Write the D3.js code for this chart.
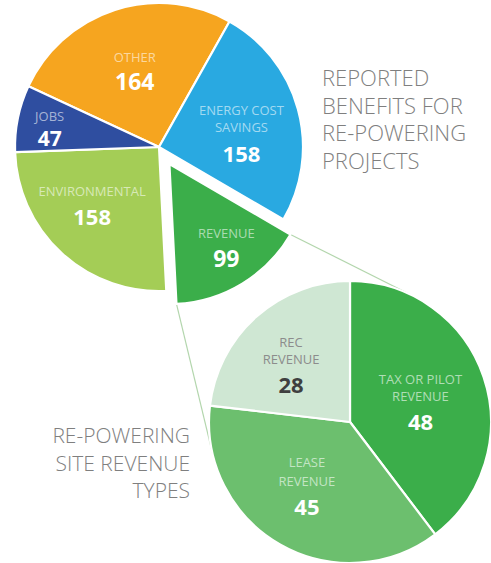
<!DOCTYPE html>
<html>
<head>
<meta charset="utf-8">
<script src="https://cdn.jsdelivr.net/npm/d3@7"></script>
<style>
  html, body { margin: 0; padding: 0; background: #fff; }
  svg { display: block; }
  text { font-family: "Open Sans", "DejaVu Sans", sans-serif; }
</style>
</head>
<body>
<script>
// ---------- DATA ----------
const categories = ["OTHER", "ENERGY COST SAVINGS", "REVENUE", "ENVIRONMENTAL", "JOBS"];
const categoryLines = [["OTHER"], ["ENERGY COST", "SAVINGS"], ["REVENUE"], ["ENVIRONMENTAL"], ["JOBS"]];
const values = [164, 158, 99, 158, 47];

const revCategories = ["TAX OR PILOT REVENUE", "LEASE REVENUE", "REC REVENUE"];
const revCategoryLines = [["TAX OR PILOT", "REVENUE"], ["LEASE", "REVENUE"], ["REC", "REVENUE"]];
const revValues = [48, 45, 28];

const title1 = ["REPORTED", "BENEFITS FOR", "RE-POWERING", "PROJECTS"];
const title2 = ["RE-POWERING", "SITE REVENUE", "TYPES"];

// ---------- STYLE / LAYOUT ----------
const W = 491, H = 563;
const mainColors = ["#f6a51f", "#29a9e1", "#3bae4a", "#a4cd56", "#2f4ea0"];
const revColors = ["#3bae4a", "#6cbf6e", "#cfe7d3"];
const explodeIndex = 2;

const svg = d3.select("body").append("svg").attr("width", W).attr("height", H);

const main = { cx: 159, cy: 147, r: 144, rExplode: 140, offset: 20 };
const sub = { cx: 350, cy: 422, r: 141 };

const deg = Math.PI / 180;
const pie = d3.pie().sort(null).value(d => d)
  .startAngle(-65 * deg).endAngle(295 * deg);
const mainArcs = pie(values);

const pie2 = d3.pie().sort(null).value(d => d);
const subArcs = pie2(revValues);

const polar = (a, rr) => [Math.sin(a) * rr, -Math.cos(a) * rr];

// Exploded slice geometry
const ex = mainArcs[explodeIndex];
const exMid = (ex.startAngle + ex.endAngle) / 2;
const [exDx, exDy] = polar(exMid, main.offset);
const apex = [main.cx + exDx, main.cy + exDy];

// Tangent connector lines from exploded slice corners to sub pie
function tangentPoint(P, C, R, sign) {
  const vx = C[0] - P[0], vy = C[1] - P[1];
  const d = Math.hypot(vx, vy);
  const th = Math.atan2(vy, vx);
  const al = Math.asin(R / d);
  const L = Math.sqrt(d * d - R * R);
  const t = th + sign * al;
  return [P[0] + L * Math.cos(t), P[1] + L * Math.sin(t)];
}
const cornerStart = (() => { const p = polar(ex.startAngle, main.rExplode); return [apex[0] + p[0], apex[1] + p[1]]; })();
const cornerEnd = (() => { const p = polar(ex.endAngle, main.rExplode); return [apex[0] + p[0], apex[1] + p[1]]; })();
const C2 = [sub.cx, sub.cy];
const t1 = tangentPoint(cornerStart, C2, sub.r, -1);
const t2 = tangentPoint(cornerEnd, C2, sub.r, +1);

svg.append("g").selectAll("line")
  .data([[cornerStart, t1], [cornerEnd, t2]])
  .join("line")
  .attr("x1", d => d[0][0]).attr("y1", d => d[0][1])
  .attr("x2", d => d[1][0]).attr("y2", d => d[1][1])
  .attr("stroke", "#b3d6ad").attr("stroke-width", 1.2);

// ---------- SUB PIE ----------
const arc2 = d3.arc().innerRadius(0).outerRadius(sub.r);
const gSub = svg.append("g").attr("transform", `translate(${sub.cx},${sub.cy})`);
gSub.selectAll("path").data(subArcs).join("path")
  .attr("d", arc2)
  .attr("fill", (d, i) => revColors[i])
  .attr("stroke", "#fff").attr("stroke-width", 2.2).attr("stroke-linejoin", "round");

// ---------- MAIN PIE ----------
const arcMain = d3.arc().innerRadius(0)
  .outerRadius(d => d.index === explodeIndex ? main.rExplode : main.r);
const gMain = svg.append("g").attr("transform", `translate(${main.cx},${main.cy})`);
gMain.selectAll("path").data(mainArcs).join("path")
  .attr("d", arcMain)
  .attr("transform", d => d.index === explodeIndex ? `translate(${exDx},${exDy})` : null)
  .attr("fill", (d, i) => mainColors[i])
  .attr("stroke", "#fff").attr("stroke-width", 2.2).attr("stroke-linejoin", "round");

// ---------- SLICE LABELS ----------
const labelSize = 13, numSize = 22;
function drawLabel(g, x, y, lines, num, gap, step, labelFill, numFill, nSize) {
  const n = lines.length;
  const blockH = (n - 1) * step + gap + 9.5;
  const y0 = y - blockH / 2 + 9.5;
  lines.forEach((t, i) => {
    g.append("text").attr("x", x).attr("y", y0 + i * step)
      .attr("text-anchor", "middle").attr("font-size", labelSize)
      .attr("fill", labelFill).text(t);
  });
  g.append("text").attr("x", x).attr("y", y0 + (n - 1) * step + gap)
    .attr("text-anchor", "middle").attr("font-size", nSize || numSize).attr("font-weight", 700)
    .attr("fill", numFill).text(num);
}

const mainLabelK = [0.55, 0.58, 0.72, 0.62, 0.77];
const mainLabelDA = [0, 6, -3, 6, -2];
const mainGap = [28, 30, 29, 29, 25];
const mainNumSize = [23, 22, 23, 22, 21];
mainArcs.forEach((d, i) => {
  const a = (d.startAngle + d.endAngle) / 2 + mainLabelDA[i] * deg;
  const rr = (i === explodeIndex ? main.rExplode : main.r) * mainLabelK[i];
  const [px, py] = polar(a, rr);
  const ox = i === explodeIndex ? exDx : 0, oy = i === explodeIndex ? exDy : 0;
  drawLabel(gMain, px + ox, py + oy, categoryLines[i], values[i], mainGap[i], 17,
    "rgba(255,255,255,0.58)", "#ffffff", mainNumSize[i]);
});

const subLabelK = [0.52, 0.55, 0.58];
const subLabelDA = [2.6, 4, -4.5];
const subStep = [17, 19, 17];
const subLabelFill = ["rgba(255,255,255,0.6)", "rgba(255,255,255,0.6)", "#8c8c8c"];
const subNumFill = ["#ffffff", "#ffffff", "#3f3f3f"];
subArcs.forEach((d, i) => {
  const a = (d.startAngle + d.endAngle) / 2 + subLabelDA[i] * deg;
  const [px, py] = polar(a, sub.r * subLabelK[i]);
  drawLabel(gSub, px, py, revCategoryLines[i], revValues[i], 29, subStep[i], subLabelFill[i], subNumFill[i]);
});

// ---------- TITLES ----------
const titleFill = "#7f7f7f";
svg.append("g").selectAll("text").data(title1).join("text")
  .attr("x", 322).attr("y", (d, i) => 86 + i * 27.5)
  .attr("font-size", 22).attr("font-weight", 300).attr("fill", titleFill)
  .text(d => d);

svg.append("g").selectAll("text").data(title2).join("text")
  .attr("x", 190).attr("y", (d, i) => 443 + i * 27.5)
  .attr("text-anchor", "end")
  .attr("font-size", 21).attr("font-weight", 300).attr("fill", titleFill)
  .text(d => d);
</script>
</body>
</html>
